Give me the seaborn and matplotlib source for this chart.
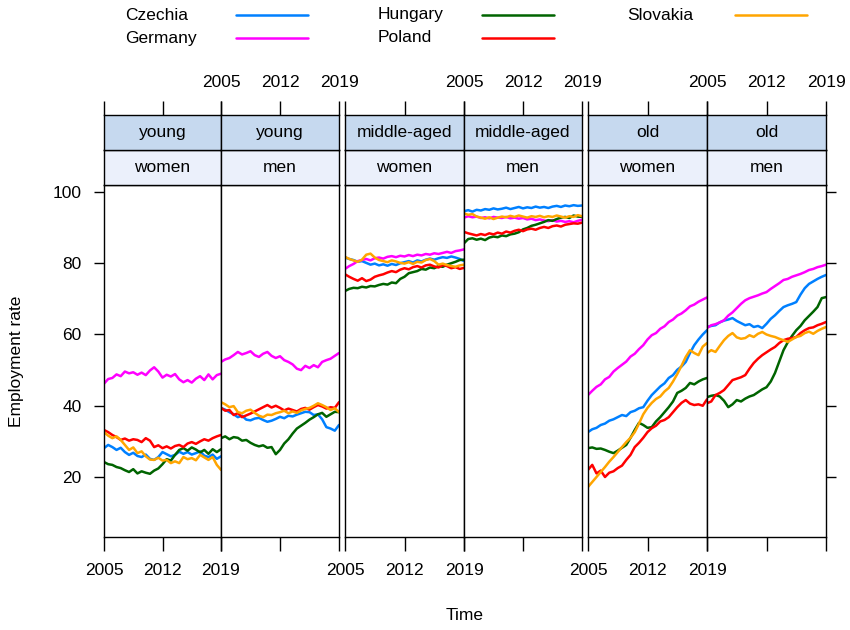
import numpy as np
import pandas as pd
import matplotlib
matplotlib.use("Agg")
import matplotlib.pyplot as plt
import seaborn as sns
from matplotlib.lines import Line2D

# half-yearly time axis 2005 .. 2019
years = np.arange(2005, 2019.01, 0.5)

countries = ["Czechia", "Germany", "Hungary", "Poland", "Slovakia"]
palette = {"Czechia": "#0080ff", "Germany": "#ff00ff", "Hungary": "#006400",
           "Poland": "#ff0000", "Slovakia": "#ffa500"}

# ---- young women
yw_cz = [28.1, 29.0, 28.4, 27.6, 28.2, 27.0, 26.2, 26.8, 25.9, 25.6, 26.3, 25.1, 24.8, 25.6, 27.0,
         26.4, 25.8, 26.2, 27.1, 26.5, 27.0, 26.3, 26.7, 27.2, 26.0, 25.6, 26.3, 25.1, 25.8]
yw_de = [46.2, 47.5, 47.8, 48.8, 48.3, 49.6, 49.1, 49.4, 48.7, 49.3, 48.6, 49.9, 50.8, 49.6, 47.9,
         48.7, 48.2, 48.9, 47.4, 46.6, 47.2, 46.5, 47.6, 48.3, 47.2, 48.8, 47.4, 48.6, 49.0]
yw_hu = [24.2, 23.6, 23.4, 22.8, 22.5, 21.9, 21.4, 22.2, 21.0, 21.6, 21.2, 20.9, 21.8, 22.4, 23.6,
         25.0, 24.6, 26.2, 27.6, 28.1, 27.4, 28.3, 27.7, 26.9, 27.6, 26.5, 27.8, 27.0, 27.8]
yw_pl = [33.2, 32.6, 31.8, 31.2, 30.4, 30.8, 30.2, 30.6, 30.4, 29.8, 30.9, 30.2, 28.4, 28.9, 28.1,
         28.6, 28.0, 28.7, 29.0, 28.4, 29.4, 29.8, 29.3, 30.0, 30.6, 30.2, 30.9, 31.4, 31.8]
yw_sk = [32.6, 31.6, 30.9, 31.4, 30.4, 29.0, 27.6, 28.3, 26.7, 27.2, 25.8, 24.9, 24.8, 25.4, 24.6,
         24.8, 23.9, 24.4, 23.9, 25.6, 25.0, 25.3, 24.7, 26.2, 25.5, 24.8, 25.6, 23.4, 22.0]

# ---- young men
ym_cz = [39.4, 38.9, 38.2, 37.6, 36.8, 37.2, 36.1, 35.9, 36.4, 36.6, 36.0, 35.5, 35.8, 36.3, 36.9,
         36.5, 37.2, 37.0, 37.5, 37.9, 38.3, 38.2, 37.4, 37.6, 36.2, 34.0, 33.6, 33.0, 34.6]
ym_de = [52.3, 53.0, 53.4, 54.2, 55.1, 54.4, 54.8, 55.3, 54.2, 53.7, 54.6, 55.1, 54.0, 53.4, 53.9,
         52.8, 52.3, 51.6, 50.4, 50.0, 51.2, 50.6, 51.4, 50.8, 52.3, 52.8, 53.2, 54.0, 54.8]
ym_hu = [30.9, 31.4, 30.6, 31.2, 31.0, 30.2, 30.4, 29.6, 29.0, 28.6, 28.9, 28.2, 28.4, 26.4, 27.6,
         29.4, 30.6, 32.2, 33.6, 34.4, 35.2, 36.1, 36.8, 37.6, 38.0, 36.9, 37.6, 38.3, 38.2]
ym_pl = [39.4, 38.6, 38.8, 37.4, 37.9, 36.8, 37.3, 37.8, 38.4, 39.0, 39.6, 40.2, 39.5, 40.0, 39.4,
         38.7, 39.2, 38.8, 38.4, 39.1, 39.4, 38.9, 39.6, 40.2, 39.8, 39.2, 39.6, 39.4, 41.0]
ym_sk = [41.0, 40.4, 39.6, 39.9, 38.2, 37.9, 38.6, 38.9, 38.0, 37.2, 36.8, 37.5, 37.4, 37.9, 38.2,
         38.6, 37.9, 38.4, 38.0, 38.7, 39.1, 39.4, 40.0, 40.7, 40.2, 39.6, 38.8, 39.3, 38.2]

# ---- middle-aged women
mw_cz = [81.6, 81.2, 80.9, 80.4, 80.6, 80.1, 79.6, 79.9, 79.4, 79.7, 79.3, 79.8, 79.5, 80.0, 80.3,
         80.6, 80.2, 80.8, 80.5, 81.0, 81.3, 81.0, 81.4, 81.7, 81.5, 81.9, 81.6, 81.2, 80.6]
mw_de = [78.4, 79.2, 79.8, 80.6, 80.9, 81.2, 80.8, 81.4, 81.6, 81.3, 81.8, 82.0, 81.7, 82.1, 81.9,
         82.3, 82.0, 82.4, 82.2, 82.6, 82.4, 82.8, 82.6, 82.9, 83.2, 82.9, 83.4, 83.6, 83.9]
mw_hu = [72.2, 72.8, 73.1, 73.0, 73.4, 73.2, 73.6, 73.5, 73.9, 74.2, 74.0, 74.6, 74.4, 75.6, 76.2,
         77.2, 77.5, 77.8, 78.4, 78.2, 78.8, 78.6, 79.2, 79.0, 79.6, 80.0, 80.4, 80.9, 81.0]
mw_pl = [76.9, 76.2, 75.6, 75.1, 75.8, 75.0, 75.4, 76.2, 76.6, 76.9, 77.4, 77.8, 77.5, 78.2, 78.6,
         78.3, 78.9, 79.2, 78.8, 79.4, 79.6, 79.1, 78.8, 79.5, 79.2, 78.6, 78.9, 78.4, 78.7]
mw_sk = [81.8, 81.2, 80.8, 80.4, 81.0, 82.4, 82.7, 81.6, 80.9, 80.6, 80.3, 80.8, 80.5, 80.1, 79.9,
         80.3, 79.8, 80.4, 80.2, 80.9, 81.2, 80.6, 79.6, 79.9, 79.5, 79.2, 79.0, 79.4, 79.6]

# ---- middle-aged men
mm_cz = [94.6, 94.9, 94.5, 95.0, 94.8, 95.2, 95.0, 95.4, 95.1, 95.3, 95.6, 95.2, 95.5, 95.8, 95.4,
         95.7, 95.5, 95.9, 95.6, 95.8, 95.5, 95.9, 96.1, 95.8, 96.2, 96.0, 96.3, 96.1, 96.2]
mm_de = [92.8, 93.2, 92.9, 93.1, 92.7, 92.9, 92.6, 93.0, 92.8, 92.7, 93.0, 92.6, 92.8, 92.5, 92.7,
         92.3, 92.5, 92.1, 92.3, 92.0, 91.8, 92.1, 91.7, 91.9, 91.6, 91.8, 91.5, 91.9, 92.2]
mm_hu = [85.6, 86.8, 87.0, 86.6, 86.9, 86.5, 87.2, 87.5, 87.3, 87.8, 87.6, 88.1, 88.3, 88.7, 89.5,
         89.9, 90.5, 90.8, 91.2, 91.6, 92.1, 91.9, 92.4, 92.8, 93.0, 92.7, 93.4, 93.1, 93.0]
mm_pl = [88.8, 88.4, 88.1, 87.8, 88.2, 87.9, 88.4, 88.1, 88.6, 88.3, 88.9, 88.6, 89.1, 89.4, 89.0,
         89.5, 89.7, 89.4, 89.9, 90.2, 89.9, 90.4, 90.6, 90.3, 90.8, 91.0, 91.2, 91.1, 91.4]
mm_sk = [94.0, 93.6, 93.8, 93.1, 92.8, 92.5, 92.9, 92.4, 92.8, 93.1, 92.9, 93.3, 93.0, 93.4, 93.1,
         92.8, 93.2, 93.0, 93.3, 92.9, 93.2, 93.0, 93.4, 93.1, 92.8, 93.2, 93.0, 93.5, 93.2]

# ---- old women
ow_cz = [32.6, 33.4, 33.8, 34.6, 35.0, 35.8, 36.2, 36.8, 37.4, 37.1, 38.2, 38.6, 39.3, 39.6, 41.4,
         43.0, 44.2, 45.4, 46.3, 47.8, 48.6, 50.1, 51.0, 52.3, 54.8, 57.0, 58.6, 60.0, 61.2]
ow_de = [43.0, 44.2, 45.3, 46.0, 47.4, 48.1, 49.6, 50.6, 51.5, 52.4, 53.8, 54.6, 55.9, 57.0, 58.6,
         59.8, 60.4, 61.6, 62.3, 63.5, 64.2, 65.3, 65.9, 66.8, 67.9, 68.4, 69.2, 69.8, 70.4]
ow_hu = [28.1, 28.3, 27.9, 28.0, 27.6, 27.1, 26.7, 27.4, 28.2, 29.0, 31.0, 33.2, 35.2, 34.6, 33.8,
         34.0, 35.6, 36.8, 38.2, 39.6, 41.2, 43.6, 44.2, 45.0, 46.4, 46.0, 46.8, 47.4, 47.8]
ow_pl = [22.0, 23.4, 21.0, 21.8, 20.0, 21.2, 21.6, 22.5, 23.2, 24.8, 26.2, 28.4, 29.6, 31.0, 32.6,
         33.7, 34.4, 35.6, 36.0, 36.8, 38.2, 39.6, 40.8, 41.6, 40.6, 40.2, 40.4, 40.0, 41.8]
ow_sk = [17.2, 18.6, 20.0, 21.4, 22.8, 24.3, 25.6, 27.0, 28.4, 29.8, 31.0, 32.6, 35.0, 37.6, 39.4,
         40.8, 41.9, 42.6, 44.0, 45.0, 46.8, 48.9, 51.2, 53.7, 55.6, 54.8, 54.2, 56.6, 57.6]

# ---- old men
om_cz = [62.1, 62.4, 62.6, 63.4, 63.9, 64.2, 64.6, 63.8, 63.2, 62.6, 62.9, 62.1, 62.4, 61.8, 63.0,
         64.4, 65.4, 66.6, 67.7, 68.2, 68.6, 69.1, 71.2, 73.0, 74.2, 74.9, 75.6, 76.2, 76.7]
om_de = [61.8, 62.6, 62.9, 63.4, 64.0, 65.3, 66.2, 67.4, 68.6, 69.6, 70.2, 70.6, 71.0, 71.5, 71.9,
         72.8, 73.6, 74.4, 75.3, 75.6, 76.2, 76.6, 77.0, 77.5, 78.1, 78.4, 78.9, 79.2, 79.6]
om_hu = [42.4, 42.8, 43.0, 42.6, 41.4, 39.6, 40.4, 41.6, 41.2, 42.0, 42.6, 43.0, 43.8, 44.6, 45.2,
         46.8, 49.2, 52.4, 55.6, 57.8, 59.6, 61.2, 62.4, 64.0, 65.2, 66.4, 67.7, 70.2, 70.5]
om_pl = [40.7, 41.2, 43.0, 43.6, 44.4, 45.8, 47.2, 47.6, 48.0, 48.6, 50.4, 52.0, 53.2, 54.2, 55.0,
         55.8, 56.5, 57.6, 58.4, 58.8, 59.0, 59.3, 60.4, 61.2, 61.8, 62.0, 62.6, 63.0, 63.5]
om_sk = [54.8, 55.6, 55.1, 56.8, 58.4, 59.6, 60.4, 59.2, 58.8, 59.0, 59.8, 59.3, 60.2, 60.7, 60.0,
         59.6, 59.3, 58.8, 58.4, 57.9, 58.6, 59.3, 59.6, 60.4, 60.8, 60.2, 61.0, 61.6, 62.1]

panels = [
    ("young", "women", [yw_cz, yw_de, yw_hu, yw_pl, yw_sk]),
    ("young", "men", [ym_cz, ym_de, ym_hu, ym_pl, ym_sk]),
    ("middle-aged", "women", [mw_cz, mw_de, mw_hu, mw_pl, mw_sk]),
    ("middle-aged", "men", [mm_cz, mm_de, mm_hu, mm_pl, mm_sk]),
    ("old", "women", [ow_cz, ow_de, ow_hu, ow_pl, ow_sk]),
    ("old", "men", [om_cz, om_de, om_hu, om_pl, om_sk]),
]

rows = []
for age, sex, series in panels:
    for c, vals in zip(countries, series):
        for yr, v in zip(years, vals):
            rows.append({"age": age, "sex": sex, "country": c, "year": yr, "rate": v})
df = pd.DataFrame(rows)

sns.set_style("white")
plt.rcParams["font.family"] = ["Liberation Sans", "DejaVu Sans"]
plt.rcParams["text.color"] = "black"
plt.rcParams["xtick.color"] = "black"
plt.rcParams["ytick.color"] = "black"
plt.rcParams["axes.labelcolor"] = "black"
FS = 12.5

W, H = 850, 630
fig = plt.figure(figsize=(8.5, 6.3), dpi=100)

lefts = [104, 221, 345, 464, 588, 707]
rights = [221, 339, 464, 582, 707, 826]
top_px, bot_px, strip_h = 185, 537, 35
xticks = [2005, 2012, 2019]

for i, (age, sex, _) in enumerate(panels):
    l, r = lefts[i], rights[i]
    ax = fig.add_axes([l / W, (H - bot_px) / H, (r - l) / W, (bot_px - top_px) / H])
    sub = df[(df.age == age) & (df.sex == sex)]
    sns.lineplot(data=sub, x="year", y="rate", hue="country", hue_order=countries,
                 palette=palette, linewidth=1.8, legend=False, ax=ax)
    ax.set_xlim(2005, 2019)
    ax.set_ylim(3.16, 101.96)
    ax.set_xlabel("")
    ax.set_ylabel("")
    for s in ax.spines.values():
        s.set_color("black")
        s.set_linewidth(1.0)
    ax.set_xticks(xticks)
    ax.tick_params(axis="x", direction="out", length=10, width=1, color="black",
                   labelsize=FS, pad=9, bottom=True, top=False,
                   labelbottom=(i % 2 == 0))
    if i == 0:
        ax.set_yticks([20, 40, 60, 80, 100])
        ax.tick_params(axis="y", direction="out", length=7, width=1, color="black",
                       labelsize=FS, pad=9, left=True, labelleft=True)
    elif i == 5:
        ax.set_yticks([20, 40, 60, 80, 100])
        ax.yaxis.set_ticks_position("right")
        ax.tick_params(axis="y", direction="out", length=7, width=1, color="black",
                       right=True, labelright=False, labelleft=False)
    else:
        ax.set_yticks([])

    # strips: lower (sex) and upper (age)
    for j, (txt, col) in enumerate([(sex, "#ebf0fb"), (age, "#c6d9ef")]):
        y0 = top_px - strip_h * (j + 1)
        sax = fig.add_axes([l / W, (H - y0 - strip_h) / H, (r - l) / W, strip_h / H])
        sax.set_facecolor(col)
        sax.set_xlim(2005, 2019)
        sax.set_ylim(0, 1)
        sax.set_yticks([])
        for s in sax.spines.values():
            s.set_color("black")
            s.set_linewidth(1.0)
        sax.text(0.5, 0.5, txt, transform=sax.transAxes, ha="center", va="center",
                 fontsize=FS)
        if j == 1:
            sax.set_xticks(xticks)
            sax.xaxis.set_ticks_position("top")
            sax.tick_params(axis="x", direction="out", length=10, width=1, color="black",
                            labelsize=FS, pad=8, top=True, bottom=False,
                            labeltop=(i % 2 == 1), labelbottom=False)
        else:
            sax.set_xticks([])

# axis titles
fig.text(465 / W, 1 - 615 / H, "Time", ha="center", va="center", fontsize=FS)
fig.text(17 / W, 1 - 361 / H, "Employment rate", ha="center", va="center",
         rotation=90, fontsize=FS)

# key at the top: text followed by a line sample, three columns
for k, c in enumerate(countries):
    col, row = k // 2, k % 2
    tx = [125, 378, 627][col]
    lx = [236, 482, 735][col]
    yy = 1 - [15, 38][row] / H
    fig.text(tx / W, yy, c, ha="left", va="center", fontsize=FS)
    fig.add_artist(Line2D([lx / W, (lx + 72) / W], [yy, yy], color=palette[c],
                          linewidth=1.8, transform=fig.transFigure))

fig.savefig("out.png", dpi=100)
